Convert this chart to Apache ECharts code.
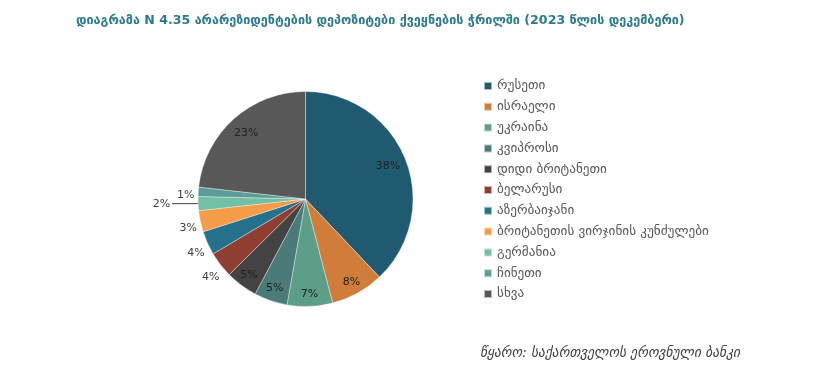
<!DOCTYPE html>
<html><head><meta charset="utf-8">
<script src="https://cdn.jsdelivr.net/npm/echarts@6/dist/echarts.min.js"></script>
<style>html,body{margin:0;padding:0;background:#fff}#c{width:814px;height:372px}</style>
</head><body><div id="c"></div>
<script>
const countries = ['რუსეთი','ისრაელი','უკრაინა','კვიპროსი','დიდი ბრიტანეთი','ბელარუსი','აზერბაიჯანი','ბრიტანეთის ვირჯინის კუნძულები','გერმანია','ჩინეთი','სხვა'];
const shares = [37.9, 8.0, 6.8, 5.0, 4.8, 3.9, 3.6, 3.2, 2.1, 1.4, 23.2];
const colors = ['#1F5A70','#D07D3C','#5C9E88','#4A7B79','#434343','#8F3F31','#25708B','#F59C48','#72BFA6','#5E9C9C','#585858'];
const bigIdx = [0,10];
const insideIdx = [1,2,3,4];
const outsideIdx = [5,6,7,9];
const lineIdx = [8];
const FONT = 'DejaVu Sans';
const C = [305.5, 199];
const R = 107.5;

function mk(showSet, withLine){
  return countries.map((n,i)=>({name:n, value:shares[i],
    label:{show:showSet.includes(i)},
    labelLine:{show: !!withLine && showSet.includes(i)}}));
}
const fmt = p => Math.round(p.value) + '%';
const fmtLow = p => '{s|}\n{t|' + Math.round(p.value) + '%}';

function ring(radius, showSet, color, low){
  return {
    type:'pie', center:C, radius:radius, startAngle:90, clockwise:true,
    silent:true, legendHoverLink:false,
    itemStyle:{color:'rgba(0,0,0,0)'},
    label:{show:false, position:'inside', formatter: low ? fmtLow : fmt, fontFamily:FONT, fontSize:11, color:color,
      rich:{s:{height:9, lineHeight:9, fontSize:1}, t:{fontFamily:FONT, fontSize:11, color:color, lineHeight:13}}},
    labelLine:{show:false},
    emphasis:{disabled:true},
    data: mk(showSet)
  };
}

const chart = echarts.init(document.getElementById('c'));
chart.setOption({
  animation:false,
  color: colors,
  title:[{
    text:'დიაგრამა N 4.35 არარეზიდენტების დეპოზიტები ქვეყნების ჭრილში (2023 წლის დეკემბერი)',
    left:76, top:14, padding:0,
    textStyle:{fontFamily:FONT, fontSize:12.6, fontWeight:'bold', color:'#2B7B8C'}
  },{
    text:'წყარო: საქართველოს ეროვნული ბანკი',
    left:480, top:346, padding:0,
    textStyle:{fontFamily:FONT, fontSize:13.5, fontStyle:'italic', fontWeight:'normal', color:'#404040'}
  }],
  legend:{
    orient:'vertical', left:483, top:79, padding:0,
    icon:'rect', itemWidth:8, itemHeight:8, itemGap:6.8,
    data: countries,
    textStyle:{fontFamily:FONT, fontSize:13.2, color:'#595959', lineHeight:14}
  },
  series:[{
    type:'pie', center:C, radius:R, startAngle:90, clockwise:true,
    silent:true, legendHoverLink:false,
    itemStyle:{borderColor:'rgba(255,255,255,0.6)', borderWidth:0.6},
    label:{show:false, position:'outside', formatter:fmt, fontFamily:FONT, fontSize:11, color:'#404040', distanceToLabelLine:2},
    labelLine:{show:true, length:2, length2:24, lineStyle:{color:'#404040', width:1}},
    emphasis:{disabled:true},
    data: mk(lineIdx, true)
  },
  ring([64, R], bigIdx, '#222'),
  ring([76, R], insideIdx, '#222'),
  ring([106, 128], outsideIdx, '#404040', true)
  ]
});
</script></body></html>
